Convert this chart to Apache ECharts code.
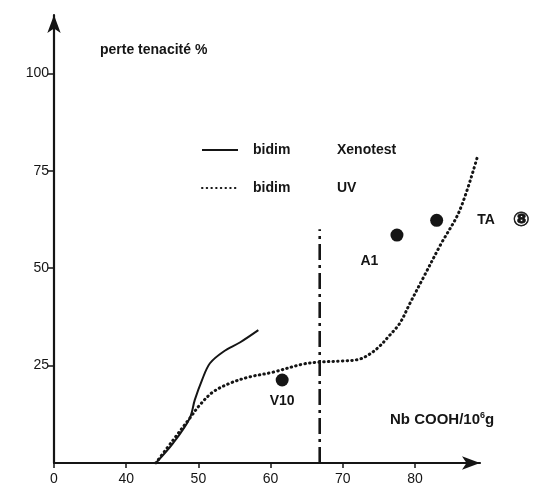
<!DOCTYPE html>
<html>
<head>
<meta charset="utf-8">
<script src="https://cdn.jsdelivr.net/npm/echarts@6/dist/echarts.min.js"></script>
<style>
  html, body { margin: 0; padding: 0; background: #fff; }
  #chart { width: 544px; height: 488px; }
</style>
</head>
<body>
<div id="chart"></div>
<script>
// bidim Xenotest (solid curve)
const xenoX = [44.1, 46.5, 48.8, 49.5, 50.5, 51.6, 53.4, 55.8, 58.3];
const xenoY = [0, 5.1, 11.5, 16.2, 21.3, 25.6, 28.5, 31.0, 34.1];
// bidim UV (dotted curve)
const uvX = [44.1, 46.5, 48.8, 50.2, 52.0, 54.4, 57.1, 60.3, 64.5, 66.8, 70.0, 72.2, 73.6, 75.0, 76.4, 77.9, 79.3, 81.1, 83.5, 86.2, 88.7];
const uvY = [0, 5.9, 11.5, 14.9, 18.2, 20.5, 22.1, 23.3, 25.4, 25.9, 26.2, 26.6, 27.8, 29.8, 32.6, 35.9, 41.0, 47.4, 55.9, 64.9, 79.0];
// single samples
const pointNames = ['V10', 'A1', 'TA'];
const pointX = [61.6, 77.5, 83.0];
const pointY = [21.3, 58.5, 62.3];
// dash-dot limit line
const limitX = 66.8;
const limitTop = 60;
// axis ticks
const xTicks = [30, 40, 50, 60, 70, 80];
const xTickLabels = ['0', '40', '50', '60', '70', '80'];
const yTicks = [25, 50, 75, 100];

const font = 'Liberation Sans';
const ink = '#151515';

const chart = echarts.init(document.getElementById('chart'));

const zip = (xs, ys) => xs.map((x, i) => [x, ys[i]]);

const txt = (size, extra) => Object.assign({ fontSize: size, fontFamily: font, fontWeight: 'bold', color: ink }, extra || {});

chart.setOption({
    animation: false,
    backgroundColor: '#fff',
    grid: { left: 54, right: 64, top: 15, bottom: 25 },
    legend: {
        orient: 'vertical',
        left: 196,
        top: 138,
        itemGap: 24,
        itemWidth: 36,
        itemHeight: 12,
        itemStyle: { color: 'rgba(0,0,0,0)', borderWidth: 0 },
        data: ['bidim Xenotest', 'bidim UV'],
        formatter: name => '{a|bidim}{b|' + name.split(' ')[1] + '}',
        textStyle: txt(14, {
            rich: {
                a: txt(14, { width: 84, padding: [0, 0, 0, 10] }),
                b: txt(14)
            }
        })
    },
    xAxis: {
        type: 'value',
        min: 30,
        max: 89,
        splitLine: { show: false },
        axisLine: {
            onZero: false,
            symbol: ['none', 'arrow'],
            symbolSize: [10, 18],
            lineStyle: { color: ink, width: 2.2 }
        },
        axisTick: { customValues: xTicks, length: 5, lineStyle: { color: ink, width: 1.5 } },
        axisLabel: Object.assign(txt(14, { fontWeight: 'normal' }), {
            customValues: xTicks,
            margin: 9,
            formatter: v => xTickLabels[xTicks.indexOf(v)]
        })
    },
    yAxis: {
        type: 'value',
        min: 0,
        max: 115,
        splitLine: { show: false },
        axisLine: {
            symbol: ['none', 'arrow'],
            symbolSize: [10, 18],
            lineStyle: { color: ink, width: 2.2 }
        },
        axisTick: { customValues: yTicks, length: 6, lineStyle: { color: ink, width: 1.5 } },
        axisLabel: Object.assign(txt(14, { fontWeight: 'normal' }), {
            customValues: yTicks,
            margin: 5
        })
    },
    graphic: [
        {
            type: 'text', left: 100, top: 43,
            style: { text: 'perte tenacité %', fill: ink, font: 'bold 14px "Liberation Sans"' }
        },
        {
            type: 'text', left: 390, top: 411,
            style: {
                text: 'Nb COOH/10{s|6}g',
                fill: ink,
                font: 'bold 15px "Liberation Sans"',
                rich: { s: { fontSize: 9, fontWeight: 'bold', verticalAlign: 'top', padding: [0, 0, 8, 0] } }
            }
        }
    ],
    series: [
        {
            name: 'bidim Xenotest',
            type: 'line',
            data: zip(xenoX, xenoY),
            smooth: 0.35,
            symbol: 'none',
            lineStyle: { color: ink, width: 2 },
            itemStyle: { color: ink }
        },
        {
            name: 'bidim UV',
            type: 'line',
            data: zip(uvX, uvY),
            smooth: 0.35,
            symbol: 'none',
            lineStyle: { color: ink, width: 3, type: [0.5, 4.2], cap: 'round' },
            itemStyle: { color: ink }
        },
        {
            name: 'limit',
            type: 'line',
            data: [[limitX, 0], [limitX, limitTop]],
            symbol: 'none',
            lineStyle: { color: ink, width: 2.6, type: [16, 5, 3, 5] }
        },
        {
            name: 'samples',
            type: 'scatter',
            symbolSize: 13,
            itemStyle: { color: ink, opacity: 1 },
            data: [
                { name: pointNames[0], value: [pointX[0], pointY[0]],
                  label: { position: 'bottom', distance: 8 } },
                { name: pointNames[1], value: [pointX[1], pointY[1]],
                  label: { position: [-30, 26] } },
                { name: pointNames[2], value: [pointX[2], pointY[2]],
                  label: {
                      position: 'right', distance: 34,
                      formatter: '{t|TA}{c|⑧}',
                      rich: {
                          t: txt(14),
                          c: txt(20, {
                              fontFamily: 'DejaVu Sans', padding: [0, 0, 0, 18],
                              textBorderColor: ink, textBorderWidth: 0.6
                          })
                      }
                  } }
            ],
            label: Object.assign(txt(14), {
                show: true,
                formatter: p => p.name
            })
        }
    ]
});
</script>
</body>
</html>
